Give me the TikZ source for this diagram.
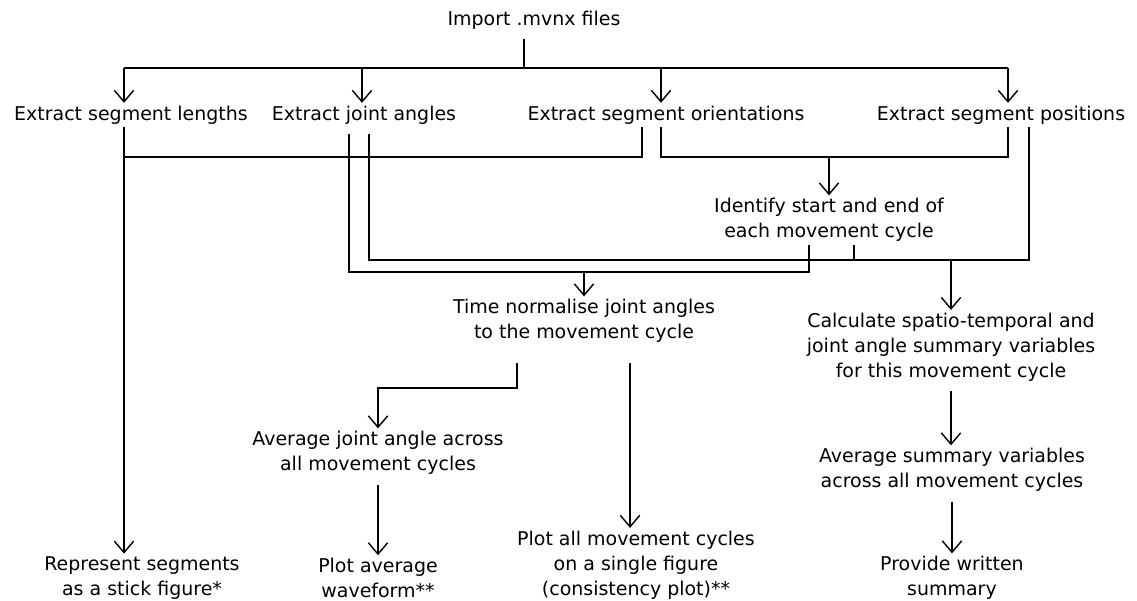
\documentclass[tikz,border=0pt]{standalone}
\usepackage{fontspec}
\setmainfont{DejaVu Sans}
\usetikzlibrary{arrows.meta}

\begin{document}
\begin{tikzpicture}[
        x=0.02cm, y=-0.02cm,
        stage/.style={align=center, inner sep=1.5pt, font=\fontsize{10.8pt}{14.2pt}\selectfont},
        flow/.style={line width=0.8pt},
        arr/.style={flow, -{Straight Barb[length=6.5pt, width=11pt, line width=0.8pt]}},
    ]
	\useasboundingbox (0,0) rectangle (1137,600);

	\node[stage] (import) at (534,20) {Import .mvnx files};
	\node[stage] (lengths) at (131,115) {Extract segment lengths};
	\node[stage] (angles) at (364,115) {Extract joint angles};
	\node[stage] (orient) at (666,115) {Extract segment orientations};
	\node[stage] (posn) at (1001,115) {Extract segment positions};
	\node[stage] (identify) at (829,220) {Identify start and end of\\each movement cycle};
	\node[stage] (timenorm) at (584,321) {Time normalise joint angles\\to the movement cycle};
	\node[stage] (calc) at (951,347) {Calculate spatio-temporal and\\joint angle summary variables\\for this movement cycle};
	\node[stage] (avgangle) at (378,453) {Average joint angle across\\all movement cycles};
	\node[stage] (avgsum) at (952,470) {Average summary variables\\across all movement cycles};
	\node[stage] (stick) at (142,578) {Represent segments\\as a stick figure*};
	\node[stage] (waveform) at (378,578) {Plot average\\waveform**};
	\node[stage] (consist) at (636,565) {Plot all movement cycles\\on a single figure\\(consistency plot)**};
	\node[stage] (written) at (952,578) {Provide written\\summary};

	\coordinate (bus) at (524,68);
	\coordinate (busL) at (124,68);
	\coordinate (busA) at (362,68);
	\coordinate (busO) at (661,68);
	\coordinate (busP) at (1008,68);
	\coordinate (lenJ) at (124,157);
	\coordinate (oriL) at (642,157);
	\coordinate (oriR) at (661,157);
	\coordinate (posL) at (1008,157);
	\coordinate (angL) at (349,272);
	\coordinate (angR) at (369,260);
	\coordinate (idL) at (809,272);
	\coordinate (idR) at (854,260);
	\coordinate (posR) at (1029,260);
	\coordinate (tnL) at (517,388);
	\coordinate (tnR) at (630,360);

	\draw[flow, shorten <=4pt] (import.south -| bus) -- (bus);
	\draw[flow] (busL) -- (busP);
	\draw[arr] (busL) -- (busL |- lengths.north);
	\draw[arr] (busA) -- (busA |- angles.north);
	\draw[arr] (busO) -- (busO |- orient.north);
	\draw[arr] (busP) -- (busP |- posn.north);
	\draw[arr] (lengths.south -| busL) -- (busL |- stick.north);
	\draw[flow] (orient.south -| oriL) -- (oriL) -- (lenJ);
	\draw[flow] (orient.south -| oriR) -- (oriR) -- (posL) -- (posn.south -| posL);
	\draw[arr] (identify.north |- oriR) -- (identify.north);
	\draw[flow, shorten <=4pt] (angles.south -| angL) -- (angL) -- (idL) -- (identify.south -| idL);
	\draw[flow, shorten <=4pt] (angles.south -| angR) -- (angR) -- (posR) -- (posn.south -| posR);
	\draw[flow] (identify.south -| idR) -- (idR);
	\draw[arr] (timenorm.north |- angL) -- (timenorm.north);
	\draw[arr] (calc.north |- angR) -- (calc.north);
	\draw[arr, shorten <=10pt] (timenorm.south -| tnL) -- (tnL) -| (avgangle.north);
	\draw[arr, shorten <=10pt] (timenorm.south -| tnR) -- (tnR |- consist.north);
	\draw[arr, shorten <=4pt] (avgangle.south) -- (waveform.north);
	\draw[arr, shorten <=4pt] (calc.south) -- (calc.south |- avgsum.north);
	\draw[arr, shorten <=4pt] (avgsum.south) -- (avgsum.south |- written.north);

    \end{tikzpicture}
\end{document}
